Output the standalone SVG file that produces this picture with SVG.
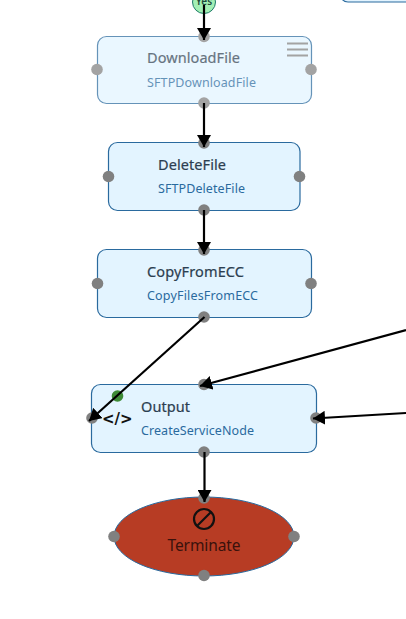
<svg xmlns="http://www.w3.org/2000/svg" width="406" height="619" viewBox="0 0 406 619">
<style>
.box{fill:#e3f4ff;stroke:#2a6a9e;stroke-width:1.2}
.t{font-family:"Noto Sans","Open Sans",sans-serif;font-size:14.5px;fill:#2c3e50;font-weight:400;stroke:#2c3e50;stroke-width:.2}
.s{font-family:"Noto Sans","Open Sans",sans-serif;font-size:12.5px;fill:#2a6a9e}
.p{fill:#808080}
.c{stroke:#000;stroke-width:2.200;fill:none;marker-end:url(#a)}
</style>
<defs><marker id="a" markerUnits="userSpaceOnUse" markerWidth="13" markerHeight="14" refX="12" refY="7" orient="auto"><path d="M0 0L12 7L0 14z" fill="#000"/></marker></defs>
<g id="yes"><circle cx="204" cy="2" r="11.500" fill="#a3f0b4" stroke="#1f7a6a"/><text x="204" y="5" text-anchor="middle" font-family="Noto Sans,sans-serif" font-size="10" font-weight="600" fill="#1d4a3a">Yes</text></g>
<g id="topright"><rect x="340" y="-30" width="90" height="32" rx="8" class="box"/></g>
<g id="download" opacity="0.72"><rect x="97.500" y="36.500" width="214" height="67" rx="9" class="box"/><text x="147" y="63" class="t" textLength="93">DownloadFile</text><text x="147" y="87" class="s" textLength="109">SFTPDownloadFile</text><path d="M287 43.500h21M287 49.500h21M287 55.500h21" stroke="#808080" stroke-width="2"/><circle class="p" cx="97" cy="69.500" r="5.800"/><circle class="p" cx="311" cy="69.500" r="5.800"/><circle class="p" cx="204" cy="103" r="5.800"/><circle class="p" cx="204" cy="36.500" r="5.800"/></g>
<g id="delete"><rect x="108.500" y="142.500" width="191.500" height="68" rx="9" class="box"/><text x="158" y="170" class="t" textLength="68">DeleteFile</text><text x="158" y="193" class="s" textLength="87">SFTPDeleteFile</text><circle class="p" cx="108.500" cy="176.500" r="5.800"/><circle class="p" cx="299.500" cy="176.500" r="5.800"/><circle class="p" cx="204" cy="143" r="5.800"/><circle class="p" cx="204" cy="210" r="5.800"/></g>
<g id="copy"><rect x="97.500" y="249.500" width="214" height="68" rx="9" class="box"/><text x="147" y="277" class="t" textLength="97">CopyFromECC</text><text x="147" y="300" class="s" textLength="111">CopyFilesFromECC</text><circle class="p" cx="97.500" cy="283.500" r="5.800"/><circle class="p" cx="311" cy="283.500" r="5.800"/><circle class="p" cx="204" cy="250" r="5.800"/><circle class="p" cx="204" cy="317" r="5.800"/></g>
<g id="output"><rect x="91.500" y="384.500" width="225" height="68" rx="9" class="box"/><circle cx="117.500" cy="396" r="5.800" fill="#3d8a36"/><text x="102" y="424" font-family="DejaVu Sans,sans-serif" font-size="15" font-weight="700" fill="#111">&lt;/&gt;</text><text x="141" y="412" class="t" textLength="49">Output</text><text x="141" y="435" class="s" textLength="113">CreateServiceNode</text><circle class="p" cx="92" cy="418" r="5.800"/><circle class="p" cx="316" cy="418" r="5.800"/><circle class="p" cx="204" cy="384.500" r="5.800"/><circle class="p" cx="204" cy="452" r="5.800"/></g>
<g id="terminate"><ellipse cx="204" cy="536.500" rx="90" ry="39.500" fill="#b73c24" stroke="#2a6a9e"/><circle cx="204" cy="519" r="10" fill="none" stroke="#111" stroke-width="2.200"/><path d="M197 526L211 512" stroke="#111" stroke-width="2.200"/><text x="204" y="551" text-anchor="middle" font-family="Noto Sans,Open Sans,sans-serif" font-size="15.500" fill="#3a120c" textLength="73">Terminate</text><circle class="p" cx="114" cy="536.500" r="5.800"/><circle class="p" cx="294" cy="536.500" r="5.800"/><circle class="p" cx="204" cy="498" r="5.800"/><circle class="p" cx="204" cy="575.500" r="5.800"/></g>
<g id="connectors">
<path class="c" d="M204 5V40"/>
<path class="c" d="M204 103V147"/>
<path class="c" d="M204 210V254"/>
<path class="c" d="M204.500 317L89 421"/>
<path class="c" d="M406 330L200 386"/>
<path class="c" d="M406 413L313 418.500"/>
<path class="c" d="M204.500 452V502"/>
</g>
</svg>
